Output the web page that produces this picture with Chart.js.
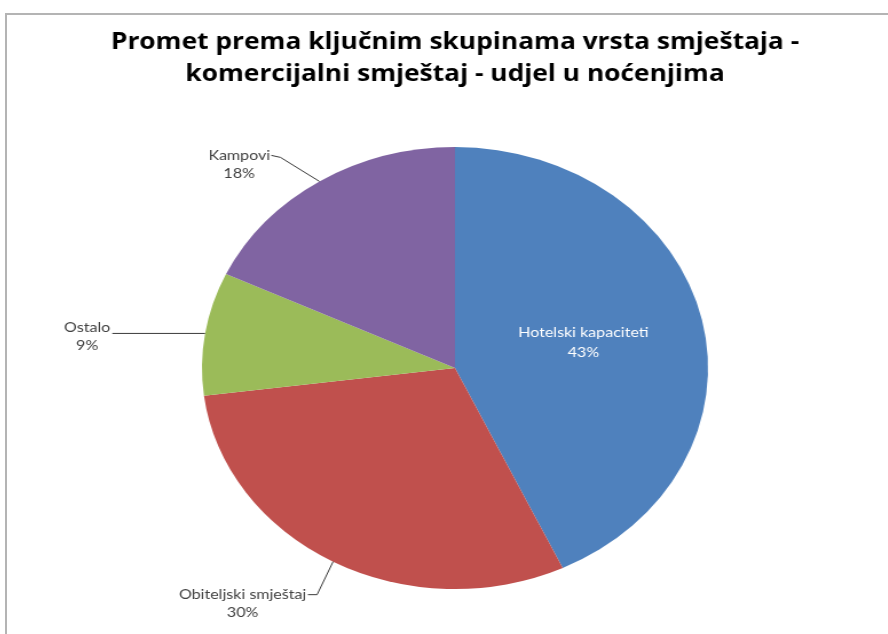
<!DOCTYPE html>
<html>
<head>
<meta charset="utf-8">
<script src="https://cdn.jsdelivr.net/npm/chart.js@4.4.1/dist/chart.umd.min.js"></script>
<style>
  html, body { margin: 0; padding: 0; background: #fff; overflow: hidden; width: 888px; height: 634px; }
  #frame { position: absolute; left: 5px; top: 13px; width: 900px; height: 640px; border-top: 2px solid #b4b4b4; border-left: 2px solid #b4b4b4; }
  #wrap { position: absolute; left: 5px; top: 13px; width: 786px; height: 621px; transform: scaleX(1.145); transform-origin: 0 0; }
</style>
</head>
<body>
<div id="frame"></div>
<div id="wrap"><canvas id="pie"></canvas></div>
<script>
const labels = ['Hotelski kapaciteti', 'Obiteljski smještaj', 'Ostalo', 'Kampovi']
const shares = [43, 30, 9, 18]
const colors = ['#4F81BD', '#C0504D', '#9BBB59', '#8064A2']
const titleLines = ['Promet prema ključnim skupinama vrsta smještaja -', 'komercijalni smještaj - udjel u noćenjima']

// label placement, relative to the middle of each slice's outer edge
const placement = [
  { inside: true, r: 0.52 },
  { dx: -79, dy: 33, lead: [[-22, 33], [-14, 33]] },
  { dx: -103, dy: -6, lead: [[-81, 0]] },
  { dx: -70, dy: -26, lead: [[-42, -26], [-34, -24]] }
]

const pieLabels = {
  id: 'pieLabels',
  afterDatasetsDraw (chart) {
    const ctx = chart.ctx
    const meta = chart.getDatasetMeta(0)
    ctx.save()
    ctx.font = '14px Lato'
    ctx.textAlign = 'center'
    ctx.textBaseline = 'middle'
    meta.data.forEach((arc, i) => {
      const p = arc.getProps(['x', 'y', 'startAngle', 'endAngle', 'outerRadius'], true)
      const mid = (p.startAngle + p.endAngle) / 2
      const pl = placement[i]
      let tx, ty
      if (pl.inside) {
        tx = p.x + Math.cos(mid) * p.outerRadius * pl.r
        ty = p.y + Math.sin(mid) * p.outerRadius * pl.r - 10
        ctx.fillStyle = '#ffffff'
        ctx.fillText(labels[i], tx, ty)
        ctx.fillText(shares[i] + '%', tx, ty + 20)
        return
      }
      const ex = p.x + Math.cos(mid) * p.outerRadius
      const ey = p.y + Math.sin(mid) * p.outerRadius
      ctx.strokeStyle = '#3a3a3a'
      ctx.lineWidth = 1
      ctx.beginPath()
      ctx.moveTo(ex + pl.lead[0][0], ey + pl.lead[0][1])
      for (let k = 1; k < pl.lead.length; k++) ctx.lineTo(ex + pl.lead[k][0], ey + pl.lead[k][1])
      ctx.lineTo(ex, ey)
      ctx.stroke()
      tx = ex + pl.dx
      ty = ey + pl.dy
      ctx.fillStyle = '#404040'
      ctx.fillText(labels[i], tx, ty)
      ctx.fillText(shares[i] + '%', tx, ty + 18)
    })
    ctx.restore()
  }
}

new Chart(document.getElementById('pie').getContext('2d'), {
  type: 'pie',
  data: {
    labels: labels,
    datasets: [{ data: shares, backgroundColor: colors, borderWidth: 0 }]
  },
  options: {
    responsive: true,
    maintainAspectRatio: false,
    animation: false,
    layout: { padding: { top: 0, bottom: 45, left: 0, right: 0 } },
    plugins: {
      legend: { display: false },
      tooltip: { enabled: false },
      title: {
        display: true,
        text: titleLines,
        color: '#000',
        font: { family: 'Open Sans', size: 23, weight: 'bold', lineHeight: '32px' },
        padding: { top: 13, bottom: 57 }
      }
    }
  },
  plugins: [pieLabels]
})
</script>
</body>
</html>
